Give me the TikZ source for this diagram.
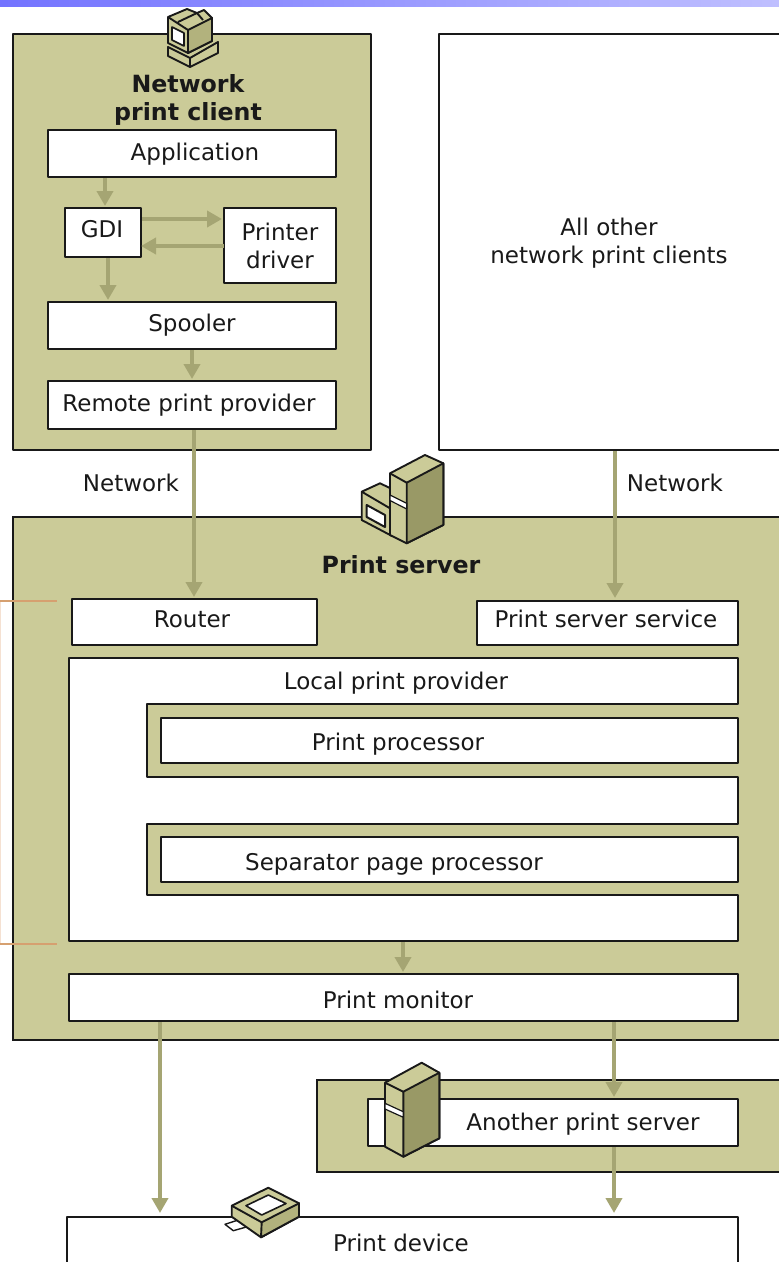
\documentclass[tikz,border=0pt]{standalone}
\usepackage{fontspec}
\setmainfont{DejaVu Sans}
\definecolor{olive}{RGB}{203,203,152}
\definecolor{darkol}{RGB}{153,153,102}
\definecolor{midol}{RGB}{178,178,125}
\definecolor{arrowc}{RGB}{165,165,115}
\definecolor{ink}{RGB}{25,25,25}
\definecolor{brk}{RGB}{214,160,112}
\definecolor{brkpale}{RGB}{245,225,210}
\usetikzlibrary{arrows.meta}
\tikzset{
  x=1pt,y=-1pt,
  pane/.style={draw=ink,line width=2.7pt,fill=olive,line join=round},
  wbox/.style={draw=ink,line width=2.7pt,fill=white,line join=round},
  lbl/.style={font=\fontsize{23}{28}\selectfont,text=ink,align=center,inner sep=0pt},
  blbl/.style={font=\fontsize{23.7}{28}\selectfont\bfseries,text=ink,align=center,inner sep=0pt},
  flow/.style={draw=arrowc,line width=3.8pt,shorten >=2pt,-{Triangle[length=15pt,width=16pt]}},
  ico/.style={draw=ink,line width=1.9pt,line join=round},
}
\begin{document}
\begin{tikzpicture}
\useasboundingbox (0,0) rectangle (779,1262);
\fill[white] (0,0) rectangle (779,1262);
\shade[left color=blue!55!white,right color=blue!25!white] (0,0) rectangle (779,6);
% client pane
\draw[pane] (13,34) rectangle (371,450);
\draw[wbox] (782,34) -- (439,34) -- (439,450) -- (782,450);
\node[lbl] (other) at (609,243) {All other\\network print clients};
\node[blbl] (nettitle) at (188,100) {Network\\print client};
\draw[wbox] (48,130) rectangle (336,177);
\node[lbl] (app) at (195,154) {Application};
\draw[wbox] (65,208) rectangle (141,257);
\node[lbl] (gdi) at (102,229) {GDI};
\draw[wbox] (224,208) rectangle (336,283);
\node[lbl] (drv) at (280,246) {Printer\\driver};
\draw[wbox] (48,302) rectangle (336,349);
\node[lbl] (spool) at (192,325) {Spooler};
\draw[wbox] (48,381) rectangle (336,429);
\node[lbl] (rpp) at (189,405) {Remote print provider};
\coordinate (a1) at (105,178); \coordinate (a2) at (105,208);
\draw[flow] (a1) -- (a2);
\coordinate (a3) at (142,219); \coordinate (a4) at (224,219);
\draw[flow] (a3) -- (a4);
\coordinate (a5) at (224,246); \coordinate (a6) at (141,246);
\draw[flow,shorten >=0pt] (a5) -- (a6);
\coordinate (a7) at (108,258); \coordinate (a8) at (108,302);
\draw[flow] (a7) -- (a8);
\coordinate (a9) at (192,350); \coordinate (a10) at (192,381);
\draw[flow] (a9) -- (a10);
% server pane
\fill[olive] (13,517) rectangle (782,1040);
\draw[draw=ink,line width=2.7pt] (782,517) -- (13,517) -- (13,1040) -- (782,1040);
\draw[brkpale,line width=1.5pt] (0.7,600) -- (0.7,944);
\draw[brk,line width=2pt] (0,600.5) -- (57,600.5) (0,944) -- (57,944);
\node[blbl] (srv) at (401,565) {Print server};
\node[lbl] (n1) at (131,483) {Network};
\node[lbl] (n2) at (675,483) {Network};
\draw[wbox] (72,599) rectangle (317,645);
\node[lbl] (router) at (192,619) {Router};
\draw[wbox] (477,601) rectangle (738,645);
\node[lbl] (pss) at (606,619) {Print server service};
\coordinate (b1) at (194,430); \coordinate (b2) at (194,599);
\draw[flow] (b1) -- (b2);
\coordinate (b3) at (615,451); \coordinate (b4) at (615,600);
\draw[flow] (b3) -- (b4);
\draw[wbox] (69,658) -- (738,658) -- (738,704) -- (147,704) -- (147,777) -- (738,777) -- (738,824) -- (147,824) -- (147,895) -- (738,895) -- (738,941) -- (69,941) -- cycle;
\node[lbl] (lpp) at (396,683) {Local print provider};
\draw[wbox] (161,718) rectangle (738,763);
\node[lbl] (pp) at (398,744) {Print processor};
\draw[wbox] (161,837) rectangle (738,882);
\node[lbl] (sep) at (394,864) {Separator page processor};
\draw[wbox] (69,974) rectangle (738,1021);
\node[lbl] (pm) at (398,1000) {Print monitor};
\coordinate (c1) at (403,942); \coordinate (c2) at (403,974);
\draw[flow] (c1) -- (c2);
% another server
\fill[olive] (317,1080) rectangle (782,1172);
\draw[ink,line width=2.7pt] (782,1080) -- (317,1080) -- (317,1172) -- (782,1172);
\draw[wbox] (368,1099) rectangle (738,1146);
\node[lbl] (aps) at (583,1124) {Another print server};
% print device
\draw[wbox] (67,1265) -- (67,1217) -- (738,1217) -- (738,1265);
\node[lbl] (dev) at (401,1243) {Print device};
\coordinate (d1) at (160,1022); \coordinate (d2) at (160,1215);
\draw[flow] (d1) -- (d2);
\coordinate (d3) at (614,1022); \coordinate (d4) at (614,1099);
\draw[flow] (d3) -- (d4);
\coordinate (d5) at (614,1147); \coordinate (d6) at (614,1215);
\draw[flow] (d5) -- (d6);
% workstation icon
\begin{scope}[ico]
\draw[fill=olive] (168,47) -- (190,58) -- (218,42) -- (218,53) -- (190,67) -- (168,56) -- cycle;
\draw (190,58) -- (190,67);
\draw[fill=olive] (168,17) -- (187,9) -- (197,13) -- (204,10) -- (212,18) -- (212,41) -- (188,53) -- (168,43) -- cycle;
\draw[fill=midol] (188,30) -- (212,18) -- (212,41) -- (188,53) -- cycle;
\draw (168,17) -- (188,30) (178,22) -- (197,13) -- (203,20);
\draw[fill=white,line width=1.6pt] (172,27) -- (184,33) -- (184,46) -- (172,40) -- cycle;
\end{scope}
% server icon
\begin{scope}[ico]
\draw[fill=olive] (361.7,491.7) -- (380,483.3) -- (392,489) -- (392,536) -- (361.7,520) -- cycle;
\draw (361.7,491.7) -- (390,508.3);
\draw[fill=white,line width=2pt] (366.7,505) -- (385,515) -- (385,527) -- (366.7,517) -- cycle;
\draw[fill=olive] (390,473.3) -- (425,455) -- (443.3,463.3) -- (443.3,525) -- (406.7,543.3) -- (390,535) -- cycle;
\draw[fill=darkol] (406.7,482.7) -- (443.3,463.3) -- (443.3,525) -- (406.7,543.3) -- cycle;
\draw (390,473.3) -- (406.7,482.7);
\draw[fill=white,line width=1.2pt] (390,495) -- (406.7,503.3) -- (406.7,509) -- (390,500.5) -- cycle;
\end{scope}
% another server icon
\begin{scope}[ico]
\draw[fill=olive] (385,1082.7) -- (421.7,1062.7) -- (439.3,1072.7) -- (439.3,1138.3) -- (403.3,1156.7) -- (385,1146.7) -- cycle;
\draw[fill=darkol] (403.3,1091.7) -- (439.3,1072.7) -- (439.3,1138.3) -- (403.3,1156.7) -- cycle;
\draw (385,1082.7) -- (403.3,1091.7);
\draw[fill=white,line width=1.2pt] (385,1103.3) -- (403.3,1111.7) -- (403.3,1117.3) -- (385,1109) -- cycle;
\end{scope}
% printer icon
\begin{scope}[ico]
\draw[fill=white,line width=1.4pt] (225,1224.3) -- (243.3,1218.3) -- (253.3,1225) -- (233.3,1230.7) -- cycle;
\draw[fill=olive] (231.7,1205.7) -- (268.3,1187.7) -- (299,1203.3) -- (299,1216.7) -- (261,1237.3) -- (231.7,1216.7) -- cycle;
\draw[fill=midol] (261.7,1222.3) -- (299,1203.3) -- (299,1216.7) -- (261,1237.3) -- cycle;
\draw (231.7,1205.7) -- (261.7,1222.3);
\draw[fill=white,line width=1.6pt] (246,1205.7) -- (268.3,1195) -- (286,1203.5) -- (261.7,1215) -- cycle;
\end{scope}
\end{tikzpicture}
\end{document}
